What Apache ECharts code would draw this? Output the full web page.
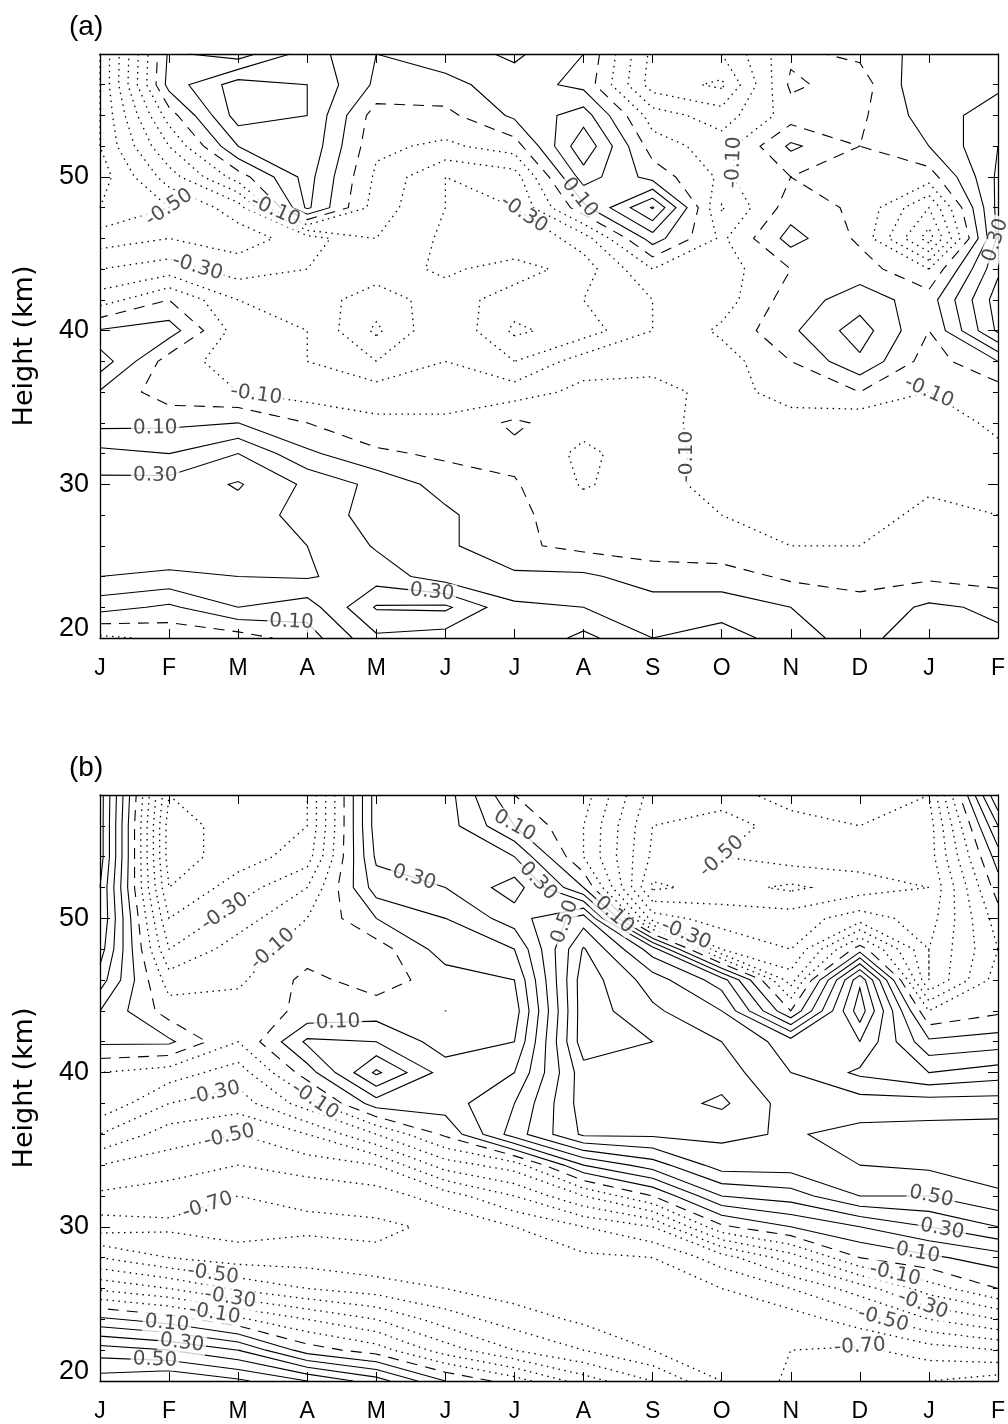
<!DOCTYPE html>
<html><head><meta charset="utf-8">
<script src="https://cdn.jsdelivr.net/npm/echarts@6/dist/echarts.min.js"></script>
<style>html,body{margin:0;padding:0;background:#fff}#c{width:1008px;height:1424px}</style>
</head><body><div id="c"></div>
<script>
// ---------------- data ----------------
const months = ['J','F','M','A','M','J','J','A','S','O','N','D','J','F'];
const heights = [20,22,24,26,28,30,32,34,36,38,40,42,44,46,48,50,52,54,56,58];
const levels = [-0.9,-0.8,-0.7,-0.6,-0.5,-0.4,-0.3,-0.2,-0.1,0,0.1,0.2,0.3,0.4,0.5,0.6,0.7,0.8,0.9];

// panel (a): one row per height, first row = 58 km, last row = 20 km; columns J..F
const valuesA = [
 [-0.60, 0.12, 0.05, 0.25, 0.10, 0.15, 0.22, 0.10,-0.33,-0.30,-0.02, 0.02, 0.15, 0.15],
 [-0.60, 0.14, 0.35, 0.30, 0.08, 0.07, 0.15, 0.07,-0.35,-0.42, 0.02,-0.05, 0.20, 0.18],
 [-0.60,-0.05, 0.35, 0.30,-0.05,-0.03, 0.12, 0.25,-0.15,-0.25,-0.05,-0.02, 0.15, 0.25],
 [-0.60,-0.20, 0.20, 0.28,-0.08,-0.12,-0.05, 0.38,-0.05,-0.15, 0.12, 0.00, 0.10, 0.30],
 [-0.65,-0.35,-0.05, 0.24,-0.12,-0.30,-0.25, 0.25, 0.06,-0.12, 0.00,-0.05,-0.05, 0.32],
 [-0.60,-0.50,-0.35, 0.22,-0.15,-0.30,-0.30, 0.07, 0.41,-0.21, 0.05,-0.02,-0.30, 0.33],
 [-0.45,-0.40,-0.45,-0.35,-0.20,-0.32,-0.40,-0.25, 0.15,-0.12, 0.14,-0.02,-0.45, 0.32],
 [-0.30,-0.25,-0.35,-0.30,-0.25,-0.32,-0.25,-0.35,-0.10,-0.15, 0.00, 0.05,-0.10, 0.38],
 [-0.15, 0.00,-0.20,-0.25,-0.35,-0.25,-0.35,-0.30,-0.20,-0.15, 0.05, 0.15, 0.05, 0.45],
 [ 0.11, 0.15,-0.15,-0.20,-0.42,-0.20,-0.42,-0.35,-0.20,-0.08, 0.08, 0.25, 0.00, 0.42],
 [ 0.26,-0.05,-0.15,-0.20,-0.30,-0.20,-0.30,-0.15,-0.12,-0.15, 0.00, 0.18,-0.05, 0.10],
 [ 0.09,-0.06,-0.10,-0.15,-0.15,-0.15,-0.15,-0.07,-0.08,-0.12,-0.08, 0.00,-0.10,-0.05],
 [ 0.07, 0.08, 0.10, 0.00,-0.08,-0.08, 0.02,-0.07,-0.06,-0.15,-0.12,-0.18,-0.15,-0.08],
 [ 0.23, 0.20, 0.30, 0.12, 0.02,-0.02,-0.03,-0.12,-0.05,-0.15,-0.15,-0.18,-0.15,-0.12],
 [ 0.33, 0.34, 0.41, 0.28, 0.17, 0.06, 0.01,-0.11,-0.05,-0.15,-0.15,-0.18,-0.12,-0.12],
 [ 0.36, 0.37, 0.36, 0.26, 0.16, 0.12, 0.02,-0.05,-0.05,-0.10,-0.15,-0.15,-0.07,-0.10],
 [ 0.37, 0.37, 0.34, 0.30, 0.19, 0.12, 0.02,-0.03,-0.05,-0.07,-0.10,-0.10,-0.05,-0.05],
 [ 0.30, 0.28, 0.30, 0.31, 0.25, 0.15, 0.12, 0.12, 0.05, 0.05,-0.02,-0.03,-0.02,-0.05],
 [ 0.14, 0.08, 0.20, 0.15, 0.41, 0.42, 0.22, 0.20, 0.15, 0.15, 0.10, 0.03, 0.12, 0.08],
 [-0.12,-0.08,-0.05, 0.05, 0.28, 0.25, 0.20, 0.33, 0.20, 0.25, 0.15, 0.05, 0.20, 0.12]
];

// panel (b): same layout
const valuesB = [
 [ 0.55,-0.50,-0.40,-0.40, 0.35, 0.35, 0.00,-0.05,-0.45,-0.45,-0.35,-0.30,-0.40, 0.50],
 [ 0.55,-0.55,-0.45,-0.40, 0.35, 0.35, 0.10,-0.10,-0.50,-0.55,-0.45,-0.40,-0.45, 0.30],
 [ 0.55,-0.55,-0.45,-0.35, 0.32, 0.36, 0.30,-0.10,-0.52,-0.50,-0.45,-0.45,-0.45, 0.15],
 [ 0.50,-0.50,-0.35,-0.20, 0.25, 0.30, 0.45, 0.10,-0.62,-0.56,-0.62,-0.55,-0.50, 0.05],
 [ 0.50,-0.40,-0.25,-0.10, 0.10, 0.20, 0.35, 0.55,-0.35,-0.45,-0.45,-0.35,-0.45,-0.05],
 [ 0.45,-0.30,-0.15,-0.05,-0.05, 0.15, 0.20, 0.71, 0.35,-0.30,-0.40, 0.05,-0.40,-0.10],
 [ 0.35,-0.15,-0.12, 0.03,-0.05, 0.05, 0.10, 0.76, 0.55, 0.35,-0.25, 0.58,-0.40,-0.05],
 [ 0.20,-0.05,-0.05, 0.02, 0.05, 0.00, 0.05, 0.76, 0.62, 0.50, 0.00, 0.66,-0.10,-0.02],
 [ 0.12, 0.12,-0.10, 0.22, 0.20, 0.05, 0.10, 0.76, 0.70, 0.60, 0.45, 0.50, 0.12, 0.15],
 [-0.10,-0.15,-0.25, 0.05, 0.42, 0.15, 0.20, 0.66, 0.65, 0.65, 0.50, 0.38, 0.30, 0.35],
 [-0.12,-0.30,-0.35,-0.15, 0.15, 0.15, 0.30, 0.65, 0.65, 0.72, 0.55, 0.55, 0.55, 0.55],
 [-0.30,-0.45,-0.50,-0.40,-0.20, 0.02, 0.35, 0.62, 0.62, 0.62, 0.59, 0.63, 0.64, 0.65],
 [-0.50,-0.55,-0.60,-0.55,-0.50,-0.25,-0.15, 0.20, 0.35, 0.55, 0.55, 0.60, 0.62, 0.63],
 [-0.62,-0.65,-0.70,-0.68,-0.65,-0.55,-0.40,-0.20, 0.00, 0.30, 0.35, 0.50, 0.50, 0.59],
 [-0.75,-0.72,-0.75,-0.72,-0.72,-0.68,-0.60,-0.50,-0.40,-0.02, 0.10, 0.20, 0.30, 0.40],
 [-0.50,-0.60,-0.65,-0.65,-0.68,-0.68,-0.65,-0.62,-0.60,-0.45,-0.25, 0.00, 0.08, 0.15],
 [-0.22,-0.30,-0.42,-0.50,-0.55,-0.60,-0.65,-0.65,-0.65,-0.60,-0.50,-0.35,-0.15, 0.00],
 [ 0.12, 0.05,-0.08,-0.20,-0.30,-0.45,-0.55,-0.62,-0.65,-0.65,-0.65,-0.55,-0.40,-0.30],
 [ 0.45, 0.40, 0.30, 0.05,-0.05,-0.25,-0.40,-0.50,-0.60,-0.68,-0.70,-0.72,-0.65,-0.60],
 [ 0.65, 0.70, 0.62, 0.50, 0.35, 0.10,-0.05,-0.25,-0.40,-0.60,-0.72,-0.78,-0.80,-0.85]
];

// contour labels: [text, level, approx month index, approx height]
const labelsA = [
 ['-0.50',-0.5,1.23,48.6], ['-0.10',-0.1,2.54,47.8], ['-0.30',-0.3,1.35,43.2],
 ['-0.30',-0.3,6.2,48.0], ['0.10',0.1,6.9,48.5], ['-0.10',-0.1,9.4,50.9],
 ['0.30',0.3,12.95,45.9], ['-0.10',-0.1,11.98,37.4], ['-0.10',-0.1,2.25,35.5],
 ['0.10',0.1,0.8,33.7], ['0.30',0.3,0.8,30.5], ['0.10',0.1,2.78,22.0],
 ['0.30',0.3,4.8,22.7], ['-0.10',-0.1,8.0,31.8]
];
const labelsB = [
 ['-0.30',-0.3,1.96,49.4], ['-0.10',-0.1,2.43,48.3], ['0.30',0.3,4.5,52.0],
 ['0.10',0.1,5.72,54.6], ['0.30',0.3,6.2,51.8], ['0.50',0.5,6.78,49.7],
 ['0.10',0.1,7.5,50.5], ['-0.30',-0.3,8.5,49.1], ['-0.50',-0.5,8.8,54.9],
 ['0.10',0.1,3.45,42.6], ['-0.10',-0.1,3.1,38.1], ['-0.30',-0.3,1.67,38.5],
 ['-0.50',-0.5,1.9,35.3], ['-0.70',-0.7,1.57,31.2], ['-0.50',-0.5,1.67,28.0],
 ['-0.30',-0.3,1.9,25.8], ['-0.10',-0.1,1.67,24.7], ['0.10',0.1,0.97,23.8],
 ['0.30',0.3,1.2,22.9], ['0.50',0.5,0.8,22.0], ['0.50',0.5,12.03,31.9],
 ['0.30',0.3,12.2,30.1], ['0.10',0.1,11.84,28.3], ['-0.10',-0.1,11.5,26.7],
 ['-0.30',-0.3,11.9,24.8], ['-0.50',-0.5,11.35,24.2], ['-0.70',-0.7,11.0,22.5]
];

// ---------------- contouring (marching squares) ----------------
function crossing(g, e, L) {
  if (e.t === 'h') { const v0 = g[e.r][e.c], v1 = g[e.r][e.c+1]; const t = (L - v0) / (v1 - v0); return [e.c + t, heights[e.r]]; }
  const v0 = g[e.r][e.c], v1 = g[e.r+1][e.c]; const t = (L - v0) / (v1 - v0);
  return [e.c, heights[e.r] + t * (heights[e.r+1] - heights[e.r])];
}
function contourLines(g, L) {
  const R = g.length, C = g[0].length, segs = [];
  for (let r = 0; r < R-1; r++) for (let c = 0; c < C-1; c++) {
    const a = g[r][c], b = g[r][c+1], cc = g[r+1][c+1], d = g[r+1][c];
    const idx = (a>L?1:0)|(b>L?2:0)|(cc>L?4:0)|(d>L?8:0);
    const B={t:'h',r:r,c:c}, Rt={t:'v',r:r,c:c+1}, T={t:'h',r:r+1,c:c}, Lf={t:'v',r:r,c:c};
    const center = (a+b+cc+d)/4 > L;
    let p = [];
    switch (idx) {
      case 1: case 14: p=[[Lf,B]]; break;
      case 2: case 13: p=[[B,Rt]]; break;
      case 3: case 12: p=[[Lf,Rt]]; break;
      case 4: case 11: p=[[Rt,T]]; break;
      case 6: case 9: p=[[B,T]]; break;
      case 7: case 8: p=[[Lf,T]]; break;
      case 5: p = center ? [[B,Rt],[Lf,T]] : [[Lf,B],[Rt,T]]; break;
      case 10: p = center ? [[Lf,B],[Rt,T]] : [[B,Rt],[Lf,T]]; break;
    }
    p.forEach(s => segs.push(s));
  }
  const key = e => e.t + e.r + '_' + e.c;
  const adj = new Map();
  segs.forEach((s,i) => s.forEach(e => { const k = key(e); if (!adj.has(k)) adj.set(k, []); adj.get(k).push(i); }));
  const used = new Array(segs.length).fill(false), out = [];
  for (let i = 0; i < segs.length; i++) {
    if (used[i]) continue;
    used[i] = true;
    const chain = [segs[i][0], segs[i][1]];
    for (;;) { const k = key(chain[chain.length-1]); const n = (adj.get(k)||[]).find(j => !used[j]); if (n === undefined) break; used[n] = true; const s = segs[n]; chain.push(key(s[0]) === k ? s[1] : s[0]); }
    for (;;) { const k = key(chain[0]); const n = (adj.get(k)||[]).find(j => !used[j]); if (n === undefined) break; used[n] = true; const s = segs[n]; chain.unshift(key(s[0]) === k ? s[1] : s[0]); }
    out.push(chain.map(e => crossing(g, e, L)));
  }
  return out;
}

const FONT = 'Liberation Sans';
const LFONT = 'DejaVu Sans';
function buildPanel(rowsTopDown, labels, p, pxX, pxY) {
  const g = rowsTopDown.slice().reverse();
  const byLevel = {};
  const pos = [], zero = [], neg = [];
  levels.forEach(L0 => {
    const L = L0 + 1e-7;
    const ls = contourLines(g, L);
    byLevel[L0.toFixed(1)] = ls;
    ls.forEach(cs => { const item = {coords: cs}; if (Math.abs(L0) < 1e-9) zero.push(item); else if (L0 > 0) pos.push(item); else neg.push(item); });
  });
  const common = {type:'lines', coordinateSystem:'cartesian2d', xAxisIndex:2*p, yAxisIndex:4*p, polyline:true, silent:true, animation:false, z:2};
  const series = [
    Object.assign({}, common, {data:pos, lineStyle:{color:'#000', width:1.1, type:'solid', opacity:1}}),
    Object.assign({}, common, {data:zero, lineStyle:{color:'#000', width:1.1, type:[11,8], opacity:1}}),
    Object.assign({}, common, {data:neg, lineStyle:{color:'#000', width:1.3, type:[1.5,4.5], opacity:1}})
  ];
  const pts = labels.map(([txt, lev, x0, y0]) => {
    const ls = byLevel[lev.toFixed(1)] || [];
    let best = null, bd = 1e9, ang = 0;
    ls.forEach(cs => { for (let i = 0; i < cs.length-1; i++) {
      const ax = cs[i][0]*pxX, ay = cs[i][1]*pxY, bx = cs[i+1][0]*pxX, by = cs[i+1][1]*pxY;
      const px = x0*pxX, py = y0*pxY, dx = bx-ax, dy = by-ay, l2 = dx*dx+dy*dy || 1;
      let t = ((px-ax)*dx + (py-ay)*dy)/l2; t = Math.max(0, Math.min(1, t));
      const qx = ax+t*dx, qy = ay+t*dy, d = Math.hypot(px-qx, py-qy);
      if (d < bd) { bd = d; best = [qx/pxX, qy/pxY]; ang = Math.atan2(dy, dx)*180/Math.PI; }
    }});
    if (!best || bd > 45) { best = [x0, y0]; ang = 0; }
    if (ang > 90) ang -= 180; if (ang < -90) ang += 180;
    return {value: best, label: {rotate: ang, formatter: txt}};
  });
  series.push({type:'scatter', xAxisIndex:2*p, yAxisIndex:4*p, symbolSize:1, silent:true, animation:false, z:5,
    itemStyle:{color:'rgba(0,0,0,0)'},
    label:{show:true, position:'inside', color:'#222', fontFamily:LFONT, fontSize:20, backgroundColor:'#fff', padding:[0,2]},
    data: pts});
  return series;
}

const grids = [{left:100, top:54, width:898, height:584}, {left:100, top:795, width:898, height:586}];
const xAxes = [], yAxes = [];
grids.forEach((gr, p) => {
  const line = {show:true, lineStyle:{color:'#000', width:1.3}};
  xAxes.push({gridIndex:p, type:'value', min:0, max:13, interval:1, position:'bottom', axisLine:line,
    axisTick:{inside:true, length:9, lineStyle:{color:'#000'}}, splitLine:{show:false},
    axisLabel:{formatter:v => months[v] || '', fontSize:23, color:'#000', margin:19, fontFamily:FONT}});
  xAxes.push({gridIndex:p, type:'value', min:0, max:13, interval:1, position:'top', axisLine:line,
    axisTick:{inside:true, length:9, lineStyle:{color:'#000'}}, splitLine:{show:false}, axisLabel:{show:false}});
  yAxes.push({gridIndex:p, type:'value', min:20, max:58, interval:2, position:'left', axisLine:line,
    axisTick:{inside:true, length:5, lineStyle:{color:'#000'}}, splitLine:{show:false},
    axisLabel:{fontSize:27, color:'#000', margin:11, fontFamily:FONT,
      formatter: v => (v % 10 === 0 && v < 58) ? (v === 20 ? '{lo|20}' : String(v)) : '',
      rich:{lo:{fontSize:27, fontFamily:FONT, color:'#000', padding:[0,0,18,0]}}},
    name:'Height (km)', nameLocation:'middle', nameGap:62, nameRotate:90,
    nameTextStyle:{fontSize:27, fontFamily:'DejaVu Sans', color:'#000'}});
  yAxes.push({gridIndex:p, type:'value', min:20, max:58, interval:10, position:'left', axisLine:{show:false},
    axisTick:{inside:true, length:10, lineStyle:{color:'#000'}}, splitLine:{show:false}, axisLabel:{show:false}});
  yAxes.push({gridIndex:p, type:'value', min:20, max:58, interval:2, position:'right', axisLine:line,
    axisTick:{inside:true, length:5, lineStyle:{color:'#000'}}, splitLine:{show:false}, axisLabel:{show:false}});
  yAxes.push({gridIndex:p, type:'value', min:20, max:58, interval:10, position:'right', axisLine:{show:false},
    axisTick:{inside:true, length:10, lineStyle:{color:'#000'}}, splitLine:{show:false}, axisLabel:{show:false}});
});

const pxX = 898/13, pxYa = 584/38, pxYb = 586/38;
const series = [].concat(buildPanel(valuesA, labelsA, 0, pxX, pxYa), buildPanel(valuesB, labelsB, 1, pxX, pxYb));

const chart = echarts.init(document.getElementById('c'), null, {renderer:'canvas'});
chart.setOption({
  animation:false, backgroundColor:'#fff',
  title:[{text:'(a)', left:64, top:8, textStyle:{fontSize:28, fontWeight:'normal', fontFamily:FONT, color:'#000'}},
         {text:'(b)', left:64, top:749, textStyle:{fontSize:28, fontWeight:'normal', fontFamily:FONT, color:'#000'}}],
  grid:grids, xAxis:xAxes, yAxis:yAxes, series:series
});
</script></body></html>
